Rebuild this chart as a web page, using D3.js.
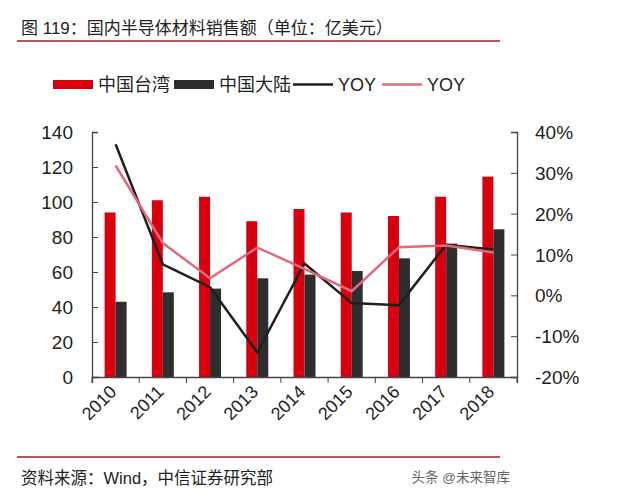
<!DOCTYPE html>
<html>
<head>
<meta charset="utf-8">
<script src="https://cdn.jsdelivr.net/npm/d3@7"></script>
<style>
  body { margin: 0; background: #fff; }
  text { font-family: "Liberation Sans", Arial, "Noto Sans CJK SC", sans-serif; }
</style>
</head>
<body>
<svg id="chart" width="640" height="502"></svg>
<script>
const years = ["2010", "2011", "2012", "2013", "2014", "2015", "2016", "2017", "2018"];
const taiwan = [94, 101, 103, 89, 96, 94, 92, 103, 114.5];
const mainland = [43, 48.4, 50.5, 56.4, 58.5, 60.6, 67.8, 76.2, 84.4];
const yoyMainland = [37, 7.6, 2, -14, 7.8, -1.9, -2.4, 12.4, 11.2];
const yoyTaiwan = [31.8, 12.8, 4.2, 11.7, 6.5, 1, 11.8, 12.2, 10.5];
const leftTicks = [0, 20, 40, 60, 80, 100, 120, 140];
const rightTicks = [-20, -10, 0, 10, 20, 30, 40];

const RED = "#d7000f", DARK = "#2e2e2e", BLACKLINE = "#1f1f1f", PINK = "#e06a7c";
const CJK = "\"Liberation Sans\", Arial, \"Noto Sans CJK SC\", sans-serif";

const svg = d3.select("#chart");
const plotLeft = 92, plotRight = 517, plotTop = 132, plotBottom = 377;

// title and rules
svg.append("text").attr("x", 21).attr("y", 34)
    .attr("font-size", 17).attr("fill", "#222")
    .text("图 119：国内半导体材料销售额（单位：亿美元）");
svg.append("line").attr("x1", 17).attr("x2", 500).attr("y1", 41).attr("y2", 41)
    .attr("stroke", "#a51e22").attr("stroke-width", 1.5);
svg.append("line").attr("x1", 17).attr("x2", 500).attr("y1", 457).attr("y2", 457)
    .attr("stroke", "#a51e22").attr("stroke-width", 1.5);
svg.append("text").attr("x", 21).attr("y", 484)
    .attr("font-size", 16.5).attr("fill", "#222")
    .text("资料来源：Wind，中信证券研究部");
svg.append("text").attr("x", 510).attr("y", 482).attr("text-anchor", "end")
    .attr("font-size", 13.5).attr("fill", "#666")
    .text("头条 @未来智库");

// legend
const legend = [
    {label: "中国台湾", type: "rect", color: RED, x: 53},
    {label: "中国大陆", type: "rect", color: DARK, x: 174},
    {label: "YOY", type: "line", color: BLACKLINE, x: 293},
    {label: "YOY", type: "line", color: PINK, x: 382}
];
const lg = svg.append("g").selectAll("g").data(legend).enter().append("g");
lg.each(function (d) {
    const g = d3.select(this);
    if (d.type === "rect") {
        g.append("rect").attr("x", d.x).attr("y", 80).attr("width", 40).attr("height", 9).attr("fill", d.color);
    } else {
        g.append("line").attr("x1", d.x).attr("x2", d.x + 40).attr("y1", 84.5).attr("y2", 84.5)
            .attr("stroke", d.color).attr("stroke-width", 2.5);
    }
    g.append("text").attr("x", d.x + 45).attr("y", 91)
        .attr("font-size", 18).attr("fill", "#222").text(d.label);
});

// scales
const x = d3.scaleBand().domain(years).range([plotLeft, plotRight]);
const y = d3.scaleLinear().domain([0, 140]).range([plotBottom, plotTop]);
const y2 = d3.scaleLinear().domain([-20, 40]).range([plotBottom, plotTop]);
const bw = 11;

// bars
svg.append("g").selectAll("rect").data(taiwan).enter().append("rect")
    .attr("x", (d, i) => x(years[i]) + x.bandwidth() / 2 - bw)
    .attr("y", (d) => y(d))
    .attr("width", bw)
    .attr("height", (d) => plotBottom - y(d))
    .attr("fill", RED);
svg.append("g").selectAll("rect").data(mainland).enter().append("rect")
    .attr("x", (d, i) => x(years[i]) + x.bandwidth() / 2)
    .attr("y", (d) => y(d))
    .attr("width", bw)
    .attr("height", (d) => plotBottom - y(d))
    .attr("fill", DARK);

// lines
const line = d3.line()
    .x((d, i) => x(years[i]) + x.bandwidth() / 2)
    .y((d) => y2(d));
svg.append("path").datum(yoyMainland).attr("d", line)
    .attr("fill", "none").attr("stroke", BLACKLINE).attr("stroke-width", 2.5);
svg.append("path").datum(yoyTaiwan).attr("d", line)
    .attr("fill", "none").attr("stroke", PINK).attr("stroke-width", 2.5);

// axes
const axisColor = "#444";
const gl = svg.append("g").attr("transform", `translate(${plotLeft},0)`)
    .call(d3.axisLeft(y).tickValues(leftTicks).tickSize(-6).tickPadding(19));
const gr = svg.append("g").attr("transform", `translate(${plotRight},0)`)
    .call(d3.axisRight(y2).tickValues(rightTicks).tickSize(-6).tickPadding(18)
        .tickFormat((d) => d + "%"));
const gx = svg.append("g").attr("transform", `translate(0,${plotBottom})`)
    .call(d3.axisBottom(x).tickSize(6).tickFormat(""));

// x band-edge ticks instead of centered ticks
gx.selectAll(".tick").remove();
gx.append("g").selectAll("line").data(d3.range(years.length + 1)).enter().append("line")
    .attr("x1", (i) => plotLeft + i * x.step()).attr("x2", (i) => plotLeft + i * x.step())
    .attr("y1", 0).attr("y2", 6).attr("stroke", axisColor);
gx.append("g").selectAll("text").data(years).enter().append("text")
    .attr("transform", (d) => `translate(${x(d) + x.bandwidth() / 2 + 2},${16}) rotate(-45)`)
    .attr("text-anchor", "end")
    .attr("font-size", 18).attr("fill", "#222")
    .text((d) => d);

[gl, gr, gx].forEach((g) => {
    g.select(".domain").attr("stroke", axisColor).attr("stroke-width", 1.3);
    g.selectAll(".tick line").attr("stroke", axisColor);
    g.selectAll(".tick text").attr("font-size", 19).attr("fill", "#222")
        .style("font-family", CJK);
});
gl.selectAll(".tick text").attr("dy", "0.35em");
gr.selectAll(".tick text").attr("dy", "0.35em");
</script>
</body>
</html>
